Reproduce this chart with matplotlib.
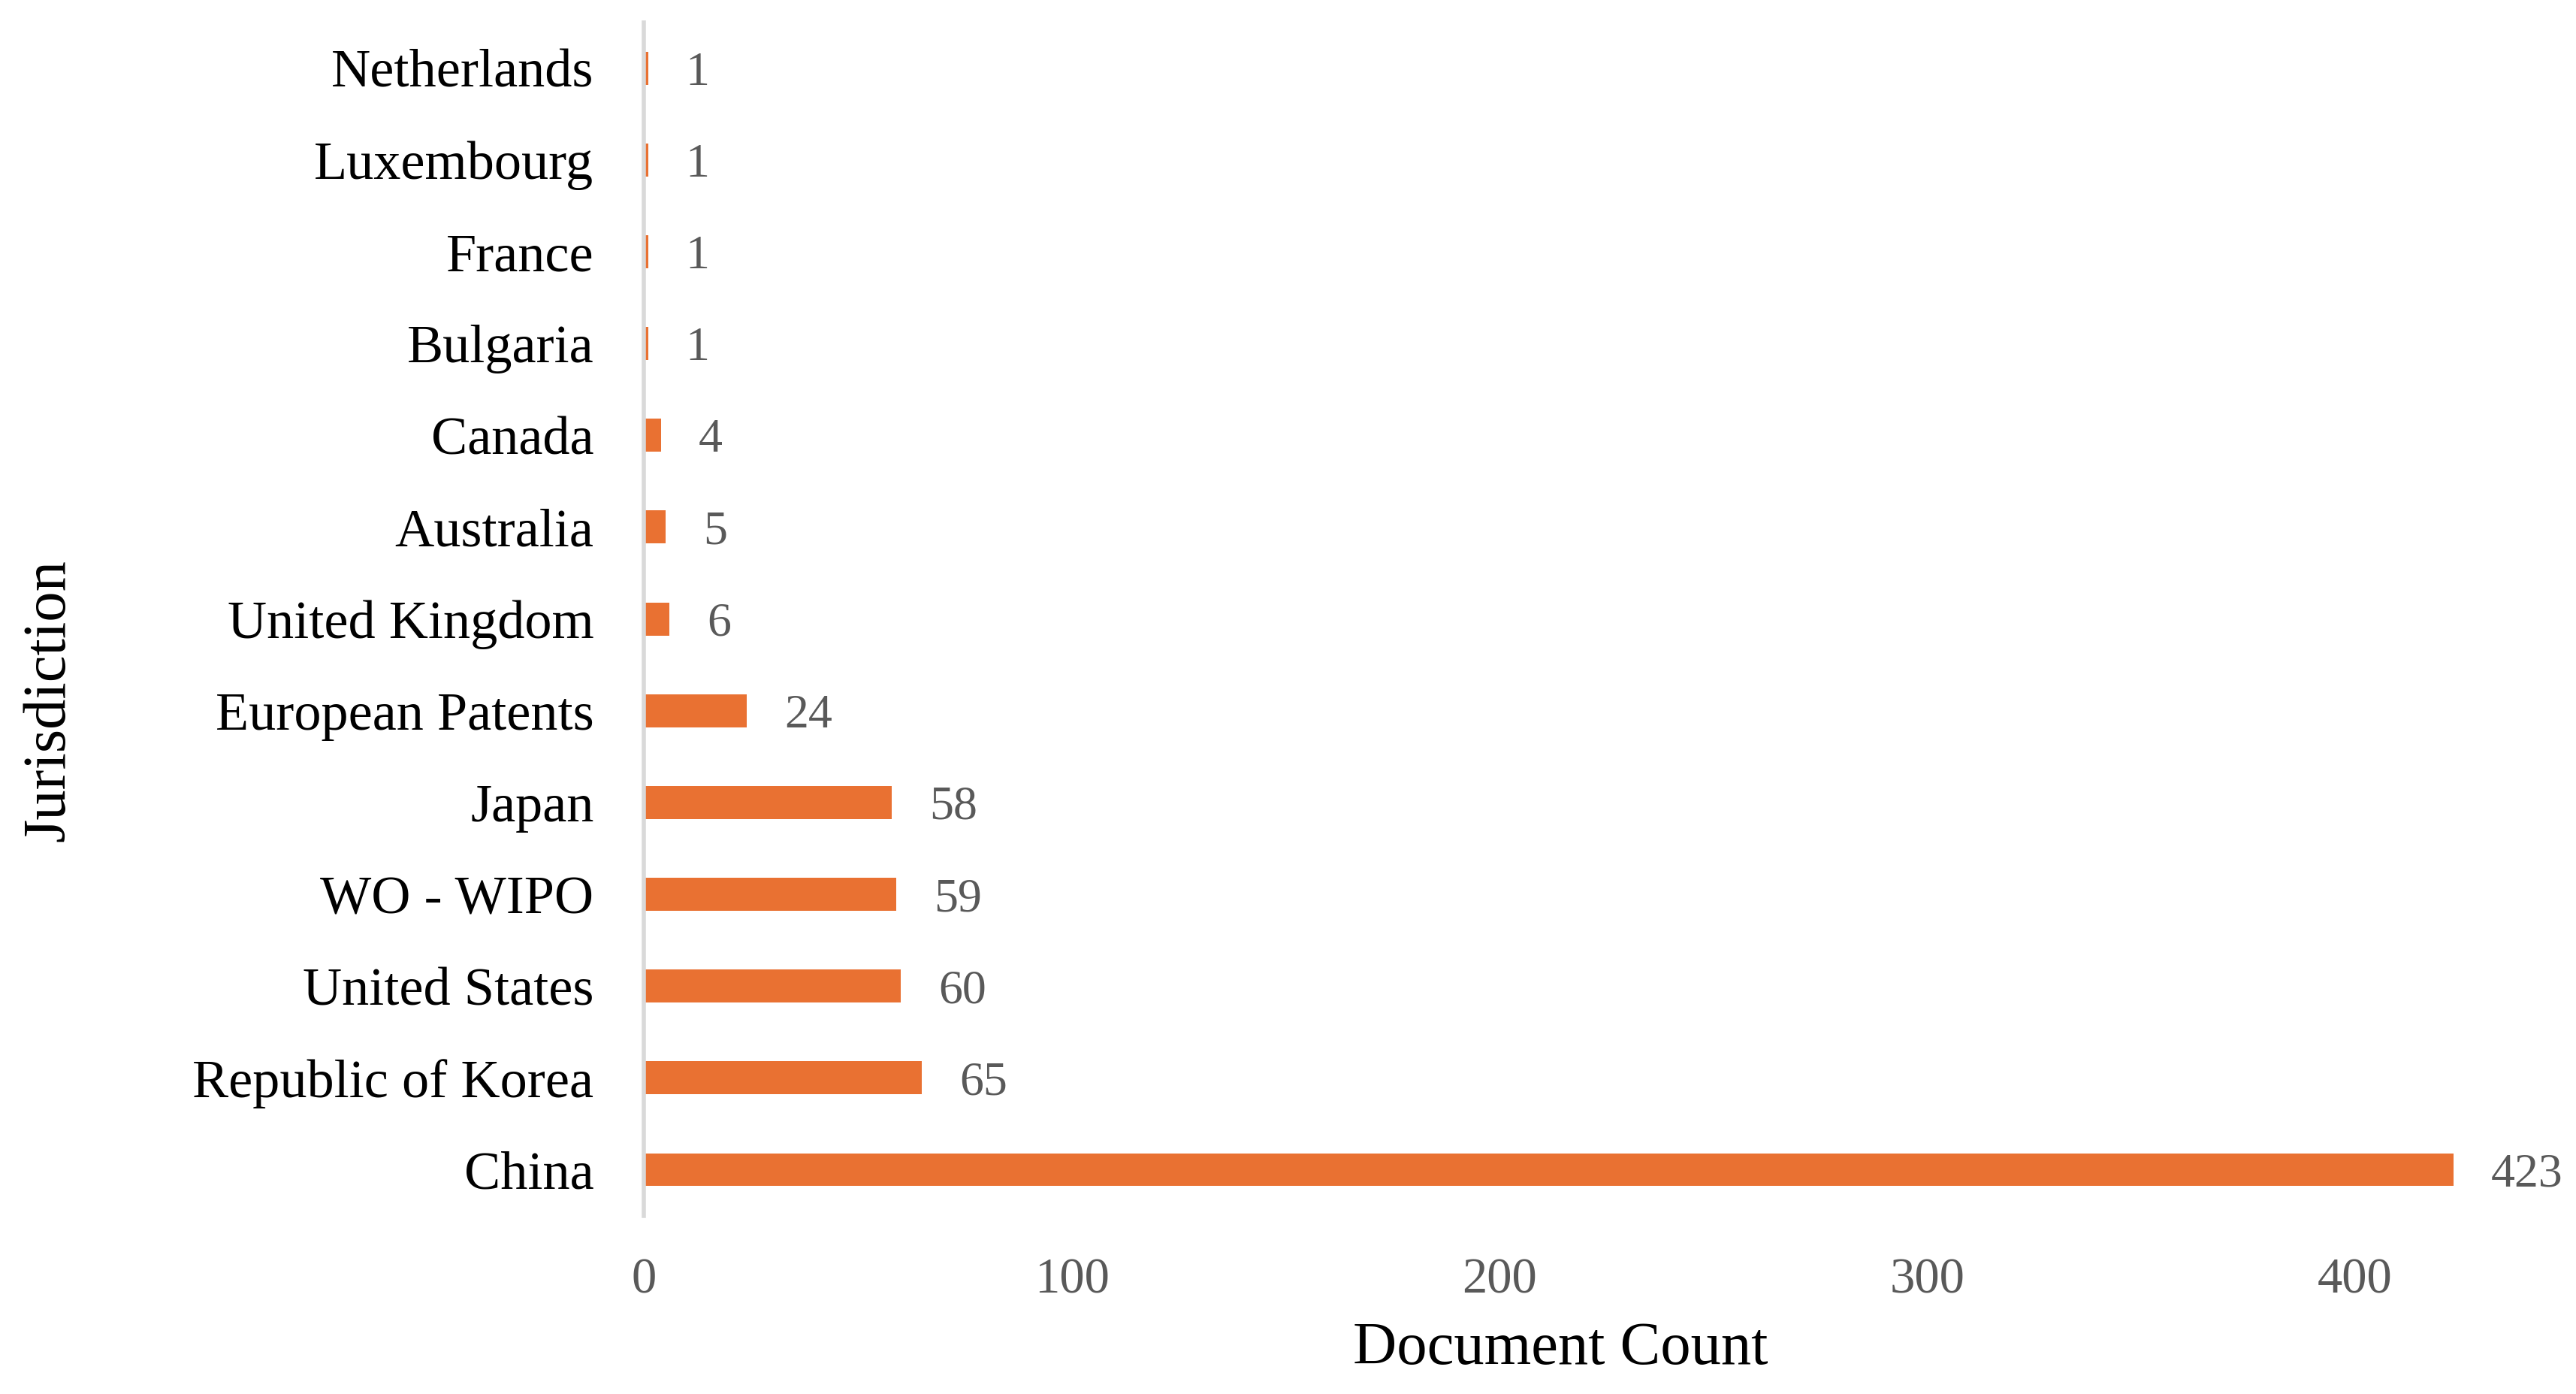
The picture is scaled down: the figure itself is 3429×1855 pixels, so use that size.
import matplotlib
matplotlib.use("Agg")
import numpy as np
from matplotlib import pyplot as plt

# data, bottom to top as drawn
jurisdictions = ['China', 'Republic of Korea', 'United States', 'WO - WIPO', 'Japan',
                 'European Patents', 'United Kingdom', 'Australia', 'Canada',
                 'Bulgaria', 'France', 'Luxembourg', 'Netherlands']
doc_counts = [423, 65, 60, 59, 58, 24, 6, 5, 4, 1, 1, 1, 1]
x_ticks = [0, 100, 200, 300, 400]

bar_color = '#E97132'
grey_text = '#595959'

plt.rcParams['font.family'] = ['Liberation Serif', 'DejaVu Serif']

fig = plt.figure(figsize=(17.15, 9.275), dpi=200)
ax = fig.add_axes([0.2499, 0.128, 0.7471, 0.856])

ypos = np.arange(len(jurisdictions))
ax.barh(ypos, doc_counts, height=0.36, color=bar_color)

for y, v in zip(ypos, doc_counts):
    ax.annotate(str(v), (v, y), xytext=(18, 0), textcoords='offset points',
                ha='left', va='center_baseline', fontsize=23, color=grey_text)

ax.set_xlim(0, 450)
ax.set_ylim(-0.5, len(jurisdictions) - 0.5)
ax.set_yticks(ypos)
ax.set_yticklabels(jurisdictions, fontsize=26, color='black')
ax.set_xticks(x_ticks)
ax.set_xticklabels([str(t) for t in x_ticks], fontsize=24, color=grey_text)
ax.tick_params(axis='y', length=0, pad=24)
ax.tick_params(axis='x', length=0, pad=20)

for s in ['top', 'right', 'bottom']:
    ax.spines[s].set_visible(False)
ax.spines['left'].set_color('#D9D9D9')
ax.spines['left'].set_linewidth(2)

ax.set_xlabel('Document Count', fontsize=29, color='black')
ax.xaxis.set_label_coords(0.476, -0.112)
ax.xaxis.label.set_va('center')
ax.set_ylabel('Jurisdiction', fontsize=29, color='black')
ax.yaxis.set_label_coords(-0.309, 0.432)
ax.yaxis.label.set_va('center')

fig.savefig('out.png', dpi=200)
